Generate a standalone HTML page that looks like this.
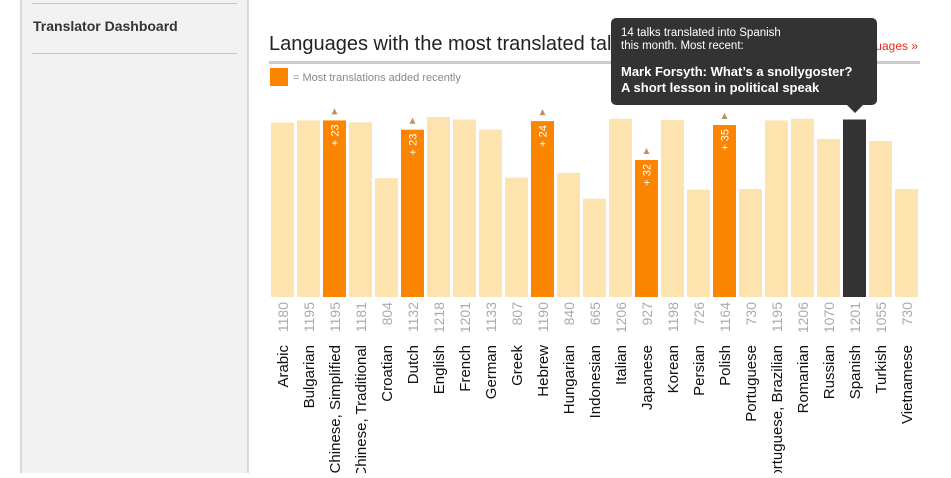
<!DOCTYPE html>
<html><head><meta charset="utf-8"><style>
body{margin:0;background:#fff;width:951px;height:473px;overflow:hidden;font-family:"Liberation Sans",sans-serif}
</style></head><body>
<svg width="951" height="473" xmlns="http://www.w3.org/2000/svg" font-family="Liberation Sans, sans-serif">
<rect x="21" y="-2" width="227" height="480" fill="#f2f2f2" stroke="#cfcfcf" stroke-width="1.5"/>
<line x1="32" y1="3.5" x2="237" y2="3.5" stroke="#c8c8c8"/>
<line x1="32" y1="53.5" x2="237" y2="53.5" stroke="#c8c8c8"/>
<text x="33" y="31" font-size="14" font-weight="bold" fill="#333">Translator Dashboard</text>
<text x="269" y="50" font-size="20" fill="#222">Languages with the most translated talks</text>
<text x="918" y="50" font-size="12" fill="#e62b1e" text-anchor="end">All languages »</text>
<rect x="269" y="61" width="651" height="3" fill="#cccccc"/>
<rect x="270" y="68" width="18" height="18" fill="#fb8500"/>
<text x="293" y="81" font-size="11" fill="#888">= Most translations added recently</text>
<g id="bars"></g>
<g>
<rect x="611" y="18" width="266" height="87" rx="5" fill="#333"/>
<polygon points="847,105 863,105 855,113" fill="#333"/>
<text x="621" y="36" font-size="11.5" fill="#fff">14 talks translated into Spanish</text>
<text x="621" y="49" font-size="11.5" fill="#fff">this month. Most recent:</text>
<text x="621" y="76" font-size="13" font-weight="bold" fill="#fff">Mark Forsyth: What’s a snollygoster?</text>
<text x="621" y="92" font-size="13" font-weight="bold" fill="#fff">A short lesson in political speak</text>
</g>
</svg>
<script>
var d=[["Arabic",1180],["Bulgarian",1195],["Chinese, Simplified",1195,23],["Chinese, Traditional",1181],["Croatian",804],["Dutch",1132,23],["English",1218],["French",1201],["German",1133],["Greek",807],["Hebrew",1190,24],["Hungarian",840],["Indonesian",665],["Italian",1206],["Japanese",927,32],["Korean",1198],["Persian",726],["Polish",1164,35],["Portuguese",730],["Portuguese, Brazilian",1195],["Romanian",1206],["Russian",1070],["Spanish",1201,0,1],["Turkish",1055],["Vietnamese",730]];
var s="";
d.forEach(function(r,i){
var x=271+i*26,h=r[1]*0.1478,t=297-h,cx=x+11.5;
var c=r[3]?"#333":(r[2]?"#fb8500":"#fde3ae");
s+='<rect x="'+x+'" y="'+t.toFixed(1)+'" width="23" height="'+h.toFixed(1)+'" fill="'+c+'"/>';
if(r[2]){
s+='<polygon points="'+(cx-3)+','+(t-6)+' '+(cx+3)+','+(t-6)+' '+cx+','+(t-12)+'" fill="#c0935e"/>';
s+='<text transform="translate('+(cx+4)+','+(t+4)+') rotate(-90)" text-anchor="end" font-size="11" fill="#fff">+ '+r[2]+'</text>';
}
s+='<text transform="translate('+(cx+5.5)+',302) rotate(-90)" text-anchor="end" font-size="14" fill="#aaa">'+r[1]+'</text>';
s+='<text transform="translate('+(cx+5.5)+',345) rotate(-90)" text-anchor="end" font-size="15" fill="#111">'+r[0]+'</text>';
});
document.getElementById("bars").innerHTML=s;
</script>
</body></html>
